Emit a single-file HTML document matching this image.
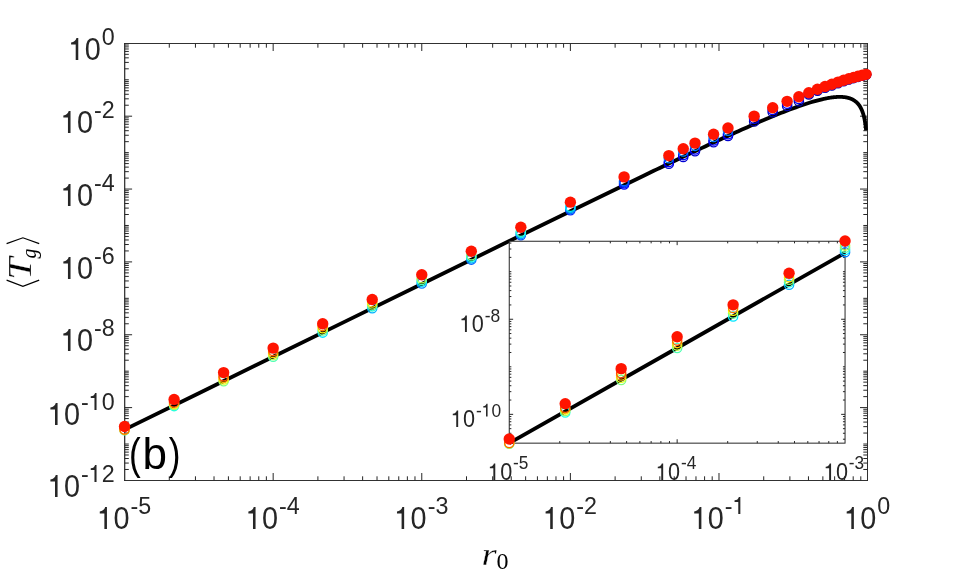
<!DOCTYPE html>
<html><head><meta charset="utf-8"><title>plot</title><style>
html,body{margin:0;padding:0;background:#fff;}
body{width:959px;height:575px;overflow:hidden;font-family:"Liberation Sans",sans-serif;}
svg{display:block;will-change:transform;}
.fs{font-family:"Liberation Sans",sans-serif;}
.fr{font-family:"Liberation Serif",serif;}
</style></head><body>
<svg width="959" height="575" viewBox="0 0 959 575">
<rect width="959" height="575" fill="#fff"/>
<path d="M169.29 480.5v-4.2M169.29 43.5v4.2M195.45 480.5v-4.2M195.45 43.5v4.2M214.02 480.5v-4.2M214.02 43.5v4.2M228.42 480.5v-4.2M228.42 43.5v4.2M240.19 480.5v-4.2M240.19 43.5v4.2M250.14 480.5v-4.2M250.14 43.5v4.2M258.76 480.5v-4.2M258.76 43.5v4.2M266.36 480.5v-4.2M266.36 43.5v4.2M273.16 480.5v-7.5M273.16 43.5v7.5M317.9 480.5v-4.2M317.9 43.5v4.2M344.06 480.5v-4.2M344.06 43.5v4.2M362.63 480.5v-4.2M362.63 43.5v4.2M377.03 480.5v-4.2M377.03 43.5v4.2M388.8 480.5v-4.2M388.8 43.5v4.2M398.75 480.5v-4.2M398.75 43.5v4.2M407.37 480.5v-4.2M407.37 43.5v4.2M414.97 480.5v-4.2M414.97 43.5v4.2M421.77 480.5v-7.5M421.77 43.5v7.5M466.51 480.5v-4.2M466.51 43.5v4.2M492.67 480.5v-4.2M492.67 43.5v4.2M511.24 480.5v-4.2M511.24 43.5v4.2M525.64 480.5v-4.2M525.64 43.5v4.2M537.41 480.5v-4.2M537.41 43.5v4.2M547.36 480.5v-4.2M547.36 43.5v4.2M555.98 480.5v-4.2M555.98 43.5v4.2M563.58 480.5v-4.2M563.58 43.5v4.2M570.38 480.5v-7.5M570.38 43.5v7.5M615.12 480.5v-4.2M615.12 43.5v4.2M641.28 480.5v-4.2M641.28 43.5v4.2M659.85 480.5v-4.2M659.85 43.5v4.2M674.25 480.5v-4.2M674.25 43.5v4.2M686.02 480.5v-4.2M686.02 43.5v4.2M695.97 480.5v-4.2M695.97 43.5v4.2M704.59 480.5v-4.2M704.59 43.5v4.2M712.19 480.5v-4.2M712.19 43.5v4.2M718.99 480.5v-7.5M718.99 43.5v7.5M763.73 480.5v-4.2M763.73 43.5v4.2M789.89 480.5v-4.2M789.89 43.5v4.2M808.46 480.5v-4.2M808.46 43.5v4.2M822.86 480.5v-4.2M822.86 43.5v4.2M834.63 480.5v-4.2M834.63 43.5v4.2M844.58 480.5v-4.2M844.58 43.5v4.2M853.2 480.5v-4.2M853.2 43.5v4.2M860.8 480.5v-4.2M860.8 43.5v4.2M124.6 469.48h4.2M867.5 469.48h-4.2M124.6 463.07h4.2M867.5 463.07h-4.2M124.6 458.52h4.2M867.5 458.52h-4.2M124.6 454.99h4.2M867.5 454.99h-4.2M124.6 452.11h4.2M867.5 452.11h-4.2M124.6 449.67h4.2M867.5 449.67h-4.2M124.6 447.55h4.2M867.5 447.55h-4.2M124.6 445.69h4.2M867.5 445.69h-4.2M124.6 444.02h4.2M867.5 444.02h-4.2M124.6 433.06h4.2M867.5 433.06h-4.2M124.6 426.65h4.2M867.5 426.65h-4.2M124.6 422.09h4.2M867.5 422.09h-4.2M124.6 418.57h4.2M867.5 418.57h-4.2M124.6 415.68h4.2M867.5 415.68h-4.2M124.6 413.24h4.2M867.5 413.24h-4.2M124.6 411.13h4.2M867.5 411.13h-4.2M124.6 409.27h4.2M867.5 409.27h-4.2M124.6 407.6h7.5M867.5 407.6h-7.5M124.6 396.63h4.2M867.5 396.63h-4.2M124.6 390.22h4.2M867.5 390.22h-4.2M124.6 385.67h4.2M867.5 385.67h-4.2M124.6 382.14h4.2M867.5 382.14h-4.2M124.6 379.26h4.2M867.5 379.26h-4.2M124.6 376.82h4.2M867.5 376.82h-4.2M124.6 374.7h4.2M867.5 374.7h-4.2M124.6 372.84h4.2M867.5 372.84h-4.2M124.6 371.18h4.2M867.5 371.18h-4.2M124.6 360.21h4.2M867.5 360.21h-4.2M124.6 353.8h4.2M867.5 353.8h-4.2M124.6 349.24h4.2M867.5 349.24h-4.2M124.6 345.72h4.2M867.5 345.72h-4.2M124.6 342.83h4.2M867.5 342.83h-4.2M124.6 340.39h4.2M867.5 340.39h-4.2M124.6 338.28h4.2M867.5 338.28h-4.2M124.6 336.42h4.2M867.5 336.42h-4.2M124.6 334.75h7.5M867.5 334.75h-7.5M124.6 323.78h4.2M867.5 323.78h-4.2M124.6 317.37h4.2M867.5 317.37h-4.2M124.6 312.82h4.2M867.5 312.82h-4.2M124.6 309.29h4.2M867.5 309.29h-4.2M124.6 306.41h4.2M867.5 306.41h-4.2M124.6 303.97h4.2M867.5 303.97h-4.2M124.6 301.85h4.2M867.5 301.85h-4.2M124.6 299.99h4.2M867.5 299.99h-4.2M124.6 298.32h4.2M867.5 298.32h-4.2M124.6 287.36h4.2M867.5 287.36h-4.2M124.6 280.95h4.2M867.5 280.95h-4.2M124.6 276.39h4.2M867.5 276.39h-4.2M124.6 272.87h4.2M867.5 272.87h-4.2M124.6 269.98h4.2M867.5 269.98h-4.2M124.6 267.54h4.2M867.5 267.54h-4.2M124.6 265.43h4.2M867.5 265.43h-4.2M124.6 263.57h4.2M867.5 263.57h-4.2M124.6 261.9h7.5M867.5 261.9h-7.5M124.6 250.93h4.2M867.5 250.93h-4.2M124.6 244.52h4.2M867.5 244.52h-4.2M124.6 239.97h4.2M867.5 239.97h-4.2M124.6 236.44h4.2M867.5 236.44h-4.2M124.6 233.56h4.2M867.5 233.56h-4.2M124.6 231.12h4.2M867.5 231.12h-4.2M124.6 229h4.2M867.5 229h-4.2M124.6 227.14h4.2M867.5 227.14h-4.2M124.6 225.47h4.2M867.5 225.47h-4.2M124.6 214.51h4.2M867.5 214.51h-4.2M124.6 208.1h4.2M867.5 208.1h-4.2M124.6 203.54h4.2M867.5 203.54h-4.2M124.6 200.02h4.2M867.5 200.02h-4.2M124.6 197.13h4.2M867.5 197.13h-4.2M124.6 194.69h4.2M867.5 194.69h-4.2M124.6 192.58h4.2M867.5 192.58h-4.2M124.6 190.72h4.2M867.5 190.72h-4.2M124.6 189.05h7.5M867.5 189.05h-7.5M124.6 178.08h4.2M867.5 178.08h-4.2M124.6 171.67h4.2M867.5 171.67h-4.2M124.6 167.12h4.2M867.5 167.12h-4.2M124.6 163.59h4.2M867.5 163.59h-4.2M124.6 160.71h4.2M867.5 160.71h-4.2M124.6 158.27h4.2M867.5 158.27h-4.2M124.6 156.15h4.2M867.5 156.15h-4.2M124.6 154.29h4.2M867.5 154.29h-4.2M124.6 152.62h4.2M867.5 152.62h-4.2M124.6 141.66h4.2M867.5 141.66h-4.2M124.6 135.25h4.2M867.5 135.25h-4.2M124.6 130.69h4.2M867.5 130.69h-4.2M124.6 127.17h4.2M867.5 127.17h-4.2M124.6 124.28h4.2M867.5 124.28h-4.2M124.6 121.84h4.2M867.5 121.84h-4.2M124.6 119.73h4.2M867.5 119.73h-4.2M124.6 117.87h4.2M867.5 117.87h-4.2M124.6 116.2h7.5M867.5 116.2h-7.5M124.6 105.23h4.2M867.5 105.23h-4.2M124.6 98.82h4.2M867.5 98.82h-4.2M124.6 94.27h4.2M867.5 94.27h-4.2M124.6 90.74h4.2M867.5 90.74h-4.2M124.6 87.86h4.2M867.5 87.86h-4.2M124.6 85.42h4.2M867.5 85.42h-4.2M124.6 83.3h4.2M867.5 83.3h-4.2M124.6 81.44h4.2M867.5 81.44h-4.2M124.6 79.78h4.2M867.5 79.78h-4.2M124.6 68.81h4.2M867.5 68.81h-4.2M124.6 62.4h4.2M867.5 62.4h-4.2M124.6 57.84h4.2M867.5 57.84h-4.2M124.6 54.32h4.2M867.5 54.32h-4.2M124.6 51.43h4.2M867.5 51.43h-4.2M124.6 48.99h4.2M867.5 48.99h-4.2M124.6 46.88h4.2M867.5 46.88h-4.2M124.6 45.02h4.2M867.5 45.02h-4.2" fill="none" stroke="#262626" stroke-width="1"/>
<path d="M124.7 43 V481" stroke="#262626" stroke-width="1.2"/>
<path d="M124.2 43.5 H868 M124.2 480.5 H868 M867.5 43 V481" stroke="#262626" stroke-width="0.95"/>
<path d="M124.55 429.61 L198.86 393.18 L273.16 356.76 L347.47 320.34 L421.77 283.93 L496.08 247.54 L570.38 211.23 L644.68 175.18 L647.71 173.73 L650.73 172.27 L653.75 170.82 L656.78 169.37 L659.8 167.92 L662.82 166.47 L665.84 165.03 L668.87 163.58 L671.89 162.14 L674.91 160.7 L677.93 159.26 L680.96 157.83 L683.98 156.39 L687 154.96 L690.02 153.53 L693.05 152.11 L696.07 150.68 L699.09 149.26 L702.11 147.85 L705.14 146.43 L708.16 145.02 L711.18 143.62 L714.2 142.22 L717.23 140.82 L720.25 139.42 L723.27 138.04 L726.29 136.65 L729.32 135.27 L732.34 133.9 L735.36 132.53 L738.38 131.17 L741.41 129.82 L744.43 128.47 L747.45 127.14 L750.48 125.8 L753.5 124.48 L756.52 123.17 L759.54 121.87 L762.57 120.58 L765.59 119.29 L768.61 118.03 L771.63 116.77 L774.66 115.53 L777.68 114.3 L780.7 113.09 L783.72 111.9 L786.75 110.73 L789.77 109.58 L792.79 108.45 L795.81 107.35 L798.84 106.27 L801.86 105.22 L804.88 104.21 L807.9 103.23 L810.93 102.3 L813.95 101.41 L816.97 100.57 L819.99 99.79 L823.02 99.07 L823.53 98.96 L824.04 98.85 L824.54 98.74 L825.04 98.63 L825.54 98.53 L826.03 98.43 L826.52 98.34 L827.01 98.24 L827.49 98.15 L827.97 98.07 L828.44 97.98 L828.92 97.9 L829.38 97.83 L829.85 97.75 L830.31 97.68 L830.77 97.61 L831.22 97.55 L831.67 97.48 L832.12 97.42 L832.57 97.37 L833.01 97.31 L833.45 97.26 L833.89 97.22 L834.32 97.17 L834.75 97.13 L835.18 97.09 L835.6 97.06 L836.03 97.03 L836.45 97 L836.86 96.97 L837.28 96.95 L837.69 96.93 L838.1 96.92 L838.5 96.9 L838.91 96.89 L839.31 96.89 L839.71 96.89 L840.1 96.89 L840.5 96.89 L840.89 96.9 L841.28 96.91 L841.66 96.93 L842.05 96.95 L842.43 96.97 L842.81 96.99 L843.19 97.02 L843.56 97.06 L843.94 97.1 L844.31 97.14 L844.68 97.18 L845.04 97.23 L845.41 97.29 L845.77 97.34 L846.13 97.41 L846.49 97.47 L846.85 97.54 L847.2 97.62 L847.55 97.7 L847.91 97.79 L848.25 97.88 L848.6 97.97 L848.95 98.07 L849.29 98.18 L849.63 98.29 L849.97 98.4 L850.31 98.52 L850.65 98.65 L850.98 98.79 L851.31 98.93 L851.65 99.07 L851.98 99.22 L852.3 99.38 L852.63 99.55 L852.95 99.72 L853.28 99.9 L853.6 100.09 L853.92 100.29 L854.24 100.49 L854.55 100.71 L854.87 100.93 L855.18 101.16 L855.49 101.4 L855.8 101.65 L856.11 101.91 L856.42 102.18 L856.73 102.47 L857.03 102.76 L857.33 103.07 L857.63 103.4 L857.94 103.73 L858.23 104.08 L858.53 104.45 L858.83 104.83 L859.12 105.23 L859.42 105.65 L859.71 106.09 L860 106.55 L860.29 107.03 L860.58 107.54 L860.86 108.07 L861.15 108.63 L861.43 109.23 L861.72 109.85 L862 110.52 L862.28 111.22 L862.56 111.97 L862.84 112.76 L863.12 113.61 L863.39 114.52 L863.67 115.5 L863.94 116.56 L864.21 117.71 L864.48 118.97 L864.75 120.35 L865.02 121.87 L865.29 123.58 L865.56 125.5 L865.82 127.71 L866.09 130.3" fill="none" stroke="#000" stroke-width="3.8" stroke-linejoin="round"/>
<circle cx="124.55" cy="430.13" r="4.65" fill="none" stroke="#4dffb2" stroke-width="1.3"/>
<circle cx="124.55" cy="429.83" r="4.65" fill="none" stroke="#faff05" stroke-width="1.3"/>
<circle cx="124.55" cy="429.53" r="4.65" fill="none" stroke="#ff6100" stroke-width="1.3"/>
<circle cx="174.09" cy="406.12" r="4.65" fill="none" stroke="#19ffe6" stroke-width="1.3"/>
<circle cx="174.09" cy="404.95" r="4.65" fill="none" stroke="#9bff64" stroke-width="1.3"/>
<circle cx="174.09" cy="403.78" r="4.65" fill="none" stroke="#ffe200" stroke-width="1.3"/>
<circle cx="174.09" cy="402.62" r="4.65" fill="none" stroke="#ff6100" stroke-width="1.3"/>
<circle cx="223.62" cy="381.19" r="4.65" fill="none" stroke="#7fff80" stroke-width="1.3"/>
<circle cx="223.62" cy="379.52" r="4.65" fill="none" stroke="#e5ff1a" stroke-width="1.3"/>
<circle cx="223.62" cy="377.86" r="4.65" fill="none" stroke="#ffb300" stroke-width="1.3"/>
<circle cx="223.62" cy="376.19" r="4.65" fill="none" stroke="#ff4c00" stroke-width="1.3"/>
<circle cx="273.16" cy="356.82" r="4.65" fill="none" stroke="#4dffb2" stroke-width="1.3"/>
<circle cx="273.16" cy="354.92" r="4.65" fill="none" stroke="#bdff42" stroke-width="1.3"/>
<circle cx="273.16" cy="353.02" r="4.65" fill="none" stroke="#ffd100" stroke-width="1.3"/>
<circle cx="273.16" cy="351.12" r="4.65" fill="none" stroke="#ff6100" stroke-width="1.3"/>
<circle cx="322.7" cy="332.6" r="4.65" fill="none" stroke="#00e6ff" stroke-width="1.3"/>
<circle cx="322.7" cy="330.43" r="4.65" fill="none" stroke="#6eff90" stroke-width="1.3"/>
<circle cx="322.7" cy="328.27" r="4.65" fill="none" stroke="#f7ff08" stroke-width="1.3"/>
<circle cx="322.7" cy="326.1" r="4.65" fill="none" stroke="#ff8000" stroke-width="1.3"/>
<circle cx="372.23" cy="308.28" r="4.65" fill="none" stroke="#00b2ff" stroke-width="1.3"/>
<circle cx="372.23" cy="306.35" r="4.65" fill="none" stroke="#2affd5" stroke-width="1.3"/>
<circle cx="372.23" cy="304.42" r="4.65" fill="none" stroke="#a1ff5e" stroke-width="1.3"/>
<circle cx="372.23" cy="302.48" r="4.65" fill="none" stroke="#ffe600" stroke-width="1.3"/>
<circle cx="421.77" cy="283.41" r="4.65" fill="none" stroke="#0080ff" stroke-width="1.3"/>
<circle cx="421.77" cy="281.71" r="4.65" fill="none" stroke="#00e5ff" stroke-width="1.3"/>
<circle cx="421.77" cy="280.01" r="4.65" fill="none" stroke="#4dffb2" stroke-width="1.3"/>
<circle cx="421.77" cy="278.31" r="4.65" fill="none" stroke="#b3ff4c" stroke-width="1.3"/>
<circle cx="471.31" cy="259.6" r="4.65" fill="none" stroke="#0061ff" stroke-width="1.3"/>
<circle cx="471.31" cy="258.16" r="4.65" fill="none" stroke="#00c0ff" stroke-width="1.3"/>
<circle cx="471.31" cy="256.73" r="4.65" fill="none" stroke="#20ffdf" stroke-width="1.3"/>
<circle cx="471.31" cy="255.3" r="4.65" fill="none" stroke="#7fff80" stroke-width="1.3"/>
<circle cx="520.84" cy="235.18" r="4.65" fill="none" stroke="#004dff" stroke-width="1.3"/>
<circle cx="520.84" cy="234.01" r="4.65" fill="none" stroke="#0097ff" stroke-width="1.3"/>
<circle cx="520.84" cy="232.85" r="4.65" fill="none" stroke="#00e2ff" stroke-width="1.3"/>
<circle cx="520.84" cy="231.68" r="4.65" fill="none" stroke="#2effd1" stroke-width="1.3"/>
<circle cx="570.38" cy="210.16" r="4.65" fill="none" stroke="#002eff" stroke-width="1.3"/>
<circle cx="570.38" cy="208.99" r="4.65" fill="none" stroke="#006eff" stroke-width="1.3"/>
<circle cx="570.38" cy="207.83" r="4.65" fill="none" stroke="#00afff" stroke-width="1.3"/>
<circle cx="570.38" cy="206.66" r="4.65" fill="none" stroke="#00f0ff" stroke-width="1.3"/>
<circle cx="624.1" cy="184.39" r="4.65" fill="none" stroke="#0000f0" stroke-width="1.3"/>
<circle cx="624.1" cy="183.23" r="4.65" fill="none" stroke="#0016ff" stroke-width="1.3"/>
<circle cx="624.1" cy="182.06" r="4.65" fill="none" stroke="#003cff" stroke-width="1.3"/>
<circle cx="624.1" cy="180.89" r="4.65" fill="none" stroke="#0061ff" stroke-width="1.3"/>
<circle cx="668.84" cy="163.68" r="4.65" fill="none" stroke="#0000d1" stroke-width="1.3"/>
<circle cx="668.84" cy="161.88" r="4.65" fill="none" stroke="#0000ff" stroke-width="1.3"/>
<circle cx="668.84" cy="158.28" r="4.65" fill="none" stroke="#0080ff" stroke-width="1.3"/>
<circle cx="683.24" cy="156.88" r="4.65" fill="none" stroke="#0000d1" stroke-width="1.3"/>
<circle cx="683.24" cy="155.08" r="4.65" fill="none" stroke="#0000ff" stroke-width="1.3"/>
<circle cx="683.24" cy="151.48" r="4.65" fill="none" stroke="#0080ff" stroke-width="1.3"/>
<circle cx="695.01" cy="151.24" r="4.65" fill="none" stroke="#0000d1" stroke-width="1.3"/>
<circle cx="695.01" cy="149.44" r="4.65" fill="none" stroke="#0000ff" stroke-width="1.3"/>
<circle cx="695.01" cy="145.84" r="4.65" fill="none" stroke="#0080ff" stroke-width="1.3"/>
<circle cx="713.58" cy="142.3" r="4.65" fill="none" stroke="#0000d1" stroke-width="1.3"/>
<circle cx="713.58" cy="140.5" r="4.65" fill="none" stroke="#0000ff" stroke-width="1.3"/>
<circle cx="713.58" cy="136.9" r="4.65" fill="none" stroke="#0080ff" stroke-width="1.3"/>
<circle cx="727.98" cy="136.05" r="4.65" fill="none" stroke="#0000d1" stroke-width="1.3"/>
<circle cx="727.98" cy="134.25" r="4.65" fill="none" stroke="#0000ff" stroke-width="1.3"/>
<circle cx="727.98" cy="130.65" r="4.65" fill="none" stroke="#0080ff" stroke-width="1.3"/>
<circle cx="754.15" cy="121.45" r="4.65" fill="none" stroke="#0000a8" stroke-width="1.3"/>
<circle cx="754.15" cy="118.65" r="4.65" fill="none" stroke="#0000fa" stroke-width="1.3"/>
<circle cx="772.71" cy="112.32" r="4.65" fill="none" stroke="#0000a8" stroke-width="1.3"/>
<circle cx="772.71" cy="110.02" r="4.65" fill="none" stroke="#0000fa" stroke-width="1.3"/>
<circle cx="787.12" cy="105.93" r="4.65" fill="none" stroke="#0000a8" stroke-width="1.3"/>
<circle cx="787.12" cy="103.63" r="4.65" fill="none" stroke="#0000fa" stroke-width="1.3"/>
<circle cx="798.88" cy="101.31" r="4.65" fill="none" stroke="#0000a8" stroke-width="1.3"/>
<circle cx="798.88" cy="99.01" r="4.65" fill="none" stroke="#0000fa" stroke-width="1.3"/>
<circle cx="808.83" cy="94.41" r="4.65" fill="none" stroke="#0000a8" stroke-width="1.3"/>
<circle cx="808.83" cy="93.6" r="4.65" fill="none" stroke="#0000fa" stroke-width="1.3"/>
<circle cx="817.45" cy="90.63" r="4.65" fill="none" stroke="#0000a8" stroke-width="1.3"/>
<circle cx="817.45" cy="89.91" r="4.65" fill="none" stroke="#0000fa" stroke-width="1.3"/>
<circle cx="825.05" cy="87.81" r="4.65" fill="none" stroke="#0000a8" stroke-width="1.3"/>
<circle cx="825.05" cy="87.16" r="4.65" fill="none" stroke="#0000fa" stroke-width="1.3"/>
<circle cx="831.85" cy="85.41" r="4.65" fill="none" stroke="#0000a8" stroke-width="1.3"/>
<circle cx="831.85" cy="84.83" r="4.65" fill="none" stroke="#0000fa" stroke-width="1.3"/>
<circle cx="838" cy="83.14" r="4.65" fill="none" stroke="#0000a8" stroke-width="1.3"/>
<circle cx="838" cy="82.63" r="4.65" fill="none" stroke="#0000fa" stroke-width="1.3"/>
<circle cx="843.62" cy="81.16" r="4.65" fill="none" stroke="#0000a8" stroke-width="1.3"/>
<circle cx="843.62" cy="80.71" r="4.65" fill="none" stroke="#0000fa" stroke-width="1.3"/>
<circle cx="848.79" cy="79.53" r="4.65" fill="none" stroke="#0000a8" stroke-width="1.3"/>
<circle cx="848.79" cy="79.14" r="4.65" fill="none" stroke="#0000fa" stroke-width="1.3"/>
<circle cx="853.57" cy="78.1" r="4.65" fill="none" stroke="#0000a8" stroke-width="1.3"/>
<circle cx="853.57" cy="77.75" r="4.65" fill="none" stroke="#0000fa" stroke-width="1.3"/>
<circle cx="858.02" cy="76.83" r="4.65" fill="none" stroke="#0000a8" stroke-width="1.3"/>
<circle cx="858.02" cy="76.54" r="4.65" fill="none" stroke="#0000fa" stroke-width="1.3"/>
<circle cx="862.19" cy="75.73" r="4.65" fill="none" stroke="#0000a8" stroke-width="1.3"/>
<circle cx="862.19" cy="75.47" r="4.65" fill="none" stroke="#0000fa" stroke-width="1.3"/>
<circle cx="866.1" cy="74.76" r="4.65" fill="none" stroke="#0000a8" stroke-width="1.3"/>
<circle cx="866.1" cy="74.55" r="4.65" fill="none" stroke="#0000fa" stroke-width="1.3"/>
<circle cx="124.55" cy="426.53" r="5.7" fill="#ff1400"/>
<circle cx="174.09" cy="399.42" r="5.7" fill="#ff1400"/>
<circle cx="223.62" cy="372.59" r="5.7" fill="#ff1400"/>
<circle cx="273.16" cy="348.12" r="5.7" fill="#ff1400"/>
<circle cx="322.7" cy="323.7" r="5.7" fill="#ff1400"/>
<circle cx="372.23" cy="299.48" r="5.7" fill="#ff1400"/>
<circle cx="421.77" cy="274.81" r="5.7" fill="#ff1400"/>
<circle cx="471.31" cy="251.3" r="5.7" fill="#ff1400"/>
<circle cx="520.84" cy="227.18" r="5.7" fill="#ff1400"/>
<circle cx="570.38" cy="202.16" r="5.7" fill="#ff1400"/>
<circle cx="624.1" cy="176.89" r="5.7" fill="#ff1400"/>
<circle cx="668.84" cy="155.58" r="5.7" fill="#ff1400"/>
<circle cx="683.24" cy="148.78" r="5.7" fill="#ff1400"/>
<circle cx="695.01" cy="143.14" r="5.7" fill="#ff1400"/>
<circle cx="713.58" cy="134.2" r="5.7" fill="#ff1400"/>
<circle cx="727.98" cy="127.95" r="5.7" fill="#ff1400"/>
<circle cx="754.15" cy="116.15" r="5.7" fill="#ff1400"/>
<circle cx="772.71" cy="107.72" r="5.7" fill="#ff1400"/>
<circle cx="787.12" cy="101.33" r="5.7" fill="#ff1400"/>
<circle cx="798.88" cy="96.71" r="5.7" fill="#ff1400"/>
<circle cx="808.83" cy="92.79" r="5.7" fill="#ff1400"/>
<circle cx="817.45" cy="89.18" r="5.7" fill="#ff1400"/>
<circle cx="825.05" cy="86.51" r="5.7" fill="#ff1400"/>
<circle cx="831.85" cy="84.25" r="5.7" fill="#ff1400"/>
<circle cx="838" cy="82.12" r="5.7" fill="#ff1400"/>
<circle cx="843.62" cy="80.26" r="5.7" fill="#ff1400"/>
<circle cx="848.79" cy="78.74" r="5.7" fill="#ff1400"/>
<circle cx="853.57" cy="77.41" r="5.7" fill="#ff1400"/>
<circle cx="858.02" cy="76.24" r="5.7" fill="#ff1400"/>
<circle cx="862.19" cy="75.22" r="5.7" fill="#ff1400"/>
<circle cx="866.1" cy="74.34" r="5.7" fill="#ff1400"/>
<rect x="509.25" y="241.25" width="335.8" height="201.9" fill="#fff"/>
<path d="M559.79 443.15v-2.1M559.79 241.25v2.1M589.36 443.15v-2.1M589.36 241.25v2.1M610.34 443.15v-2.1M610.34 241.25v2.1M626.61 443.15v-2.1M626.61 241.25v2.1M639.9 443.15v-2.1M639.9 241.25v2.1M651.14 443.15v-2.1M651.14 241.25v2.1M660.88 443.15v-2.1M660.88 241.25v2.1M669.47 443.15v-2.1M669.47 241.25v2.1M677.15 443.15v-3.9M677.15 241.25v3.9M727.69 443.15v-2.1M727.69 241.25v2.1M757.26 443.15v-2.1M757.26 241.25v2.1M778.24 443.15v-2.1M778.24 241.25v2.1M794.51 443.15v-2.1M794.51 241.25v2.1M807.8 443.15v-2.1M807.8 241.25v2.1M819.04 443.15v-2.1M819.04 241.25v2.1M828.78 443.15v-2.1M828.78 241.25v2.1M837.37 443.15v-2.1M837.37 241.25v2.1M509.25 439.21h2.1M845.05 439.21h-2.1M509.25 433.27h2.1M845.05 433.27h-2.1M509.25 428.66h2.1M845.05 428.66h-2.1M509.25 424.9h2.1M845.05 424.9h-2.1M509.25 421.72h2.1M845.05 421.72h-2.1M509.25 418.96h2.1M845.05 418.96h-2.1M509.25 416.53h2.1M845.05 416.53h-2.1M509.25 414.35h3.9M845.05 414.35h-3.9M509.25 400.04h2.1M845.05 400.04h-2.1M509.25 391.66h2.1M845.05 391.66h-2.1M509.25 385.72h2.1M845.05 385.72h-2.1M509.25 381.11h2.1M845.05 381.11h-2.1M509.25 377.35h2.1M845.05 377.35h-2.1M509.25 374.17h2.1M845.05 374.17h-2.1M509.25 371.41h2.1M845.05 371.41h-2.1M509.25 368.98h2.1M845.05 368.98h-2.1M509.25 366.8h2.1M845.05 366.8h-2.1M509.25 352.49h2.1M845.05 352.49h-2.1M509.25 344.11h2.1M845.05 344.11h-2.1M509.25 338.17h2.1M845.05 338.17h-2.1M509.25 333.56h2.1M845.05 333.56h-2.1M509.25 329.8h2.1M845.05 329.8h-2.1M509.25 326.62h2.1M845.05 326.62h-2.1M509.25 323.86h2.1M845.05 323.86h-2.1M509.25 321.43h2.1M845.05 321.43h-2.1M509.25 319.25h3.9M845.05 319.25h-3.9M509.25 304.94h2.1M845.05 304.94h-2.1M509.25 296.56h2.1M845.05 296.56h-2.1M509.25 290.62h2.1M845.05 290.62h-2.1M509.25 286.01h2.1M845.05 286.01h-2.1M509.25 282.25h2.1M845.05 282.25h-2.1M509.25 279.07h2.1M845.05 279.07h-2.1M509.25 276.31h2.1M845.05 276.31h-2.1M509.25 273.88h2.1M845.05 273.88h-2.1M509.25 271.7h2.1M845.05 271.7h-2.1M509.25 257.39h2.1M845.05 257.39h-2.1M509.25 249.01h2.1M845.05 249.01h-2.1M509.25 243.07h2.1M845.05 243.07h-2.1" fill="none" stroke="#262626" stroke-width="1"/>
<rect x="509.25" y="241.25" width="335.8" height="201.9" fill="none" stroke="#262626" stroke-width="1.0"/>
<path d="M509.25 443.08 L677.15 347.98 L845.05 252.9" fill="none" stroke="#000" stroke-width="3.8"/>
<circle cx="509.25" cy="443.76" r="4.65" fill="none" stroke="#4dffb2" stroke-width="1.3"/>
<circle cx="509.25" cy="443.37" r="4.65" fill="none" stroke="#faff05" stroke-width="1.3"/>
<circle cx="509.25" cy="442.97" r="4.65" fill="none" stroke="#ff6100" stroke-width="1.3"/>
<circle cx="565.22" cy="412.41" r="4.65" fill="none" stroke="#19ffe6" stroke-width="1.3"/>
<circle cx="565.22" cy="410.89" r="4.65" fill="none" stroke="#9bff64" stroke-width="1.3"/>
<circle cx="565.22" cy="409.37" r="4.65" fill="none" stroke="#ffe200" stroke-width="1.3"/>
<circle cx="565.22" cy="407.84" r="4.65" fill="none" stroke="#ff6100" stroke-width="1.3"/>
<circle cx="621.18" cy="379.88" r="4.65" fill="none" stroke="#7fff80" stroke-width="1.3"/>
<circle cx="621.18" cy="377.7" r="4.65" fill="none" stroke="#e5ff1a" stroke-width="1.3"/>
<circle cx="621.18" cy="375.52" r="4.65" fill="none" stroke="#ffb300" stroke-width="1.3"/>
<circle cx="621.18" cy="373.35" r="4.65" fill="none" stroke="#ff4c00" stroke-width="1.3"/>
<circle cx="677.15" cy="348.06" r="4.65" fill="none" stroke="#4dffb2" stroke-width="1.3"/>
<circle cx="677.15" cy="345.58" r="4.65" fill="none" stroke="#bdff42" stroke-width="1.3"/>
<circle cx="677.15" cy="343.1" r="4.65" fill="none" stroke="#ffd100" stroke-width="1.3"/>
<circle cx="677.15" cy="340.62" r="4.65" fill="none" stroke="#ff6100" stroke-width="1.3"/>
<circle cx="733.12" cy="316.45" r="4.65" fill="none" stroke="#00e6ff" stroke-width="1.3"/>
<circle cx="733.12" cy="313.62" r="4.65" fill="none" stroke="#6eff90" stroke-width="1.3"/>
<circle cx="733.12" cy="310.79" r="4.65" fill="none" stroke="#f7ff08" stroke-width="1.3"/>
<circle cx="733.12" cy="307.96" r="4.65" fill="none" stroke="#ff8000" stroke-width="1.3"/>
<circle cx="789.08" cy="284.7" r="4.65" fill="none" stroke="#00b2ff" stroke-width="1.3"/>
<circle cx="789.08" cy="282.18" r="4.65" fill="none" stroke="#2affd5" stroke-width="1.3"/>
<circle cx="789.08" cy="279.65" r="4.65" fill="none" stroke="#a1ff5e" stroke-width="1.3"/>
<circle cx="789.08" cy="277.13" r="4.65" fill="none" stroke="#ffe600" stroke-width="1.3"/>
<circle cx="845.05" cy="252.24" r="4.65" fill="none" stroke="#0080ff" stroke-width="1.3"/>
<circle cx="845.05" cy="250.02" r="4.65" fill="none" stroke="#00e5ff" stroke-width="1.3"/>
<circle cx="845.05" cy="247.8" r="4.65" fill="none" stroke="#4dffb2" stroke-width="1.3"/>
<circle cx="845.05" cy="245.58" r="4.65" fill="none" stroke="#b3ff4c" stroke-width="1.3"/>
<circle cx="509.25" cy="439.06" r="5.7" fill="#ff1400"/>
<circle cx="565.22" cy="403.67" r="5.7" fill="#ff1400"/>
<circle cx="621.18" cy="368.65" r="5.7" fill="#ff1400"/>
<circle cx="677.15" cy="336.7" r="5.7" fill="#ff1400"/>
<circle cx="733.12" cy="304.83" r="5.7" fill="#ff1400"/>
<circle cx="789.08" cy="273.21" r="5.7" fill="#ff1400"/>
<circle cx="845.05" cy="241.01" r="5.7" fill="#ff1400"/>
<g class="fs" fill="#262626"><path transform="translate(97.37 529) scale(28.830 -31.000)" d="M0.243 0L0.332 0L0.332 0.709L0.27 0.709C0.245 0.625 0.185 0.576 0.083 0.568L0.083 0.503L0.243 0.503Z"/><text transform="translate(113.4 529) scale(0.93 1)" font-size="31.0">0</text><text transform="translate(130.43 514) scale(0.97 1)" font-size="24.0">-</text><text transform="translate(138.18 514) scale(0.97 1)" font-size="24.0">5</text><path transform="translate(245.98 529) scale(28.830 -31.000)" d="M0.243 0L0.332 0L0.332 0.709L0.27 0.709C0.245 0.625 0.185 0.576 0.083 0.568L0.083 0.503L0.243 0.503Z"/><text transform="translate(262.01 529) scale(0.93 1)" font-size="31.0">0</text><text transform="translate(279.04 514) scale(0.97 1)" font-size="24.0">-</text><text transform="translate(286.79 514) scale(0.97 1)" font-size="24.0">4</text><path transform="translate(394.59 529) scale(28.830 -31.000)" d="M0.243 0L0.332 0L0.332 0.709L0.27 0.709C0.245 0.625 0.185 0.576 0.083 0.568L0.083 0.503L0.243 0.503Z"/><text transform="translate(410.62 529) scale(0.93 1)" font-size="31.0">0</text><text transform="translate(427.65 514) scale(0.97 1)" font-size="24.0">-</text><text transform="translate(435.4 514) scale(0.97 1)" font-size="24.0">3</text><path transform="translate(543.2 529) scale(28.830 -31.000)" d="M0.243 0L0.332 0L0.332 0.709L0.27 0.709C0.245 0.625 0.185 0.576 0.083 0.568L0.083 0.503L0.243 0.503Z"/><text transform="translate(559.23 529) scale(0.93 1)" font-size="31.0">0</text><text transform="translate(576.26 514) scale(0.97 1)" font-size="24.0">-</text><text transform="translate(584.01 514) scale(0.97 1)" font-size="24.0">2</text><path transform="translate(691.81 529) scale(28.830 -31.000)" d="M0.243 0L0.332 0L0.332 0.709L0.27 0.709C0.245 0.625 0.185 0.576 0.083 0.568L0.083 0.503L0.243 0.503Z"/><text transform="translate(707.84 529) scale(0.93 1)" font-size="31.0">0</text><text transform="translate(724.87 514) scale(0.97 1)" font-size="24.0">-</text><path transform="translate(732.62 514) scale(23.280 -24.000)" d="M0.243 0L0.332 0L0.332 0.709L0.27 0.709C0.245 0.625 0.185 0.576 0.083 0.568L0.083 0.503L0.243 0.503Z"/><path transform="translate(844.3 529) scale(28.830 -31.000)" d="M0.243 0L0.332 0L0.332 0.709L0.27 0.709C0.245 0.625 0.185 0.576 0.083 0.568L0.083 0.503L0.243 0.503Z"/><text transform="translate(860.33 529) scale(0.93 1)" font-size="31.0">0</text><text transform="translate(877.36 514) scale(0.97 1)" font-size="24.0">0</text><path transform="translate(68.7 60) scale(28.830 -31.000)" d="M0.243 0L0.332 0L0.332 0.709L0.27 0.709C0.245 0.625 0.185 0.576 0.083 0.568L0.083 0.503L0.243 0.503Z"/><text transform="translate(84.73 60) scale(0.93 1)" font-size="31.0">0</text><text transform="translate(101.76 45) scale(0.97 1)" font-size="24.0">0</text><path transform="translate(60.95 133) scale(28.830 -31.000)" d="M0.243 0L0.332 0L0.332 0.709L0.27 0.709C0.245 0.625 0.185 0.576 0.083 0.568L0.083 0.503L0.243 0.503Z"/><text transform="translate(76.97 133) scale(0.93 1)" font-size="31.0">0</text><text transform="translate(94 118) scale(0.97 1)" font-size="24.0">-</text><text transform="translate(101.76 118) scale(0.97 1)" font-size="24.0">2</text><path transform="translate(60.95 206) scale(28.830 -31.000)" d="M0.243 0L0.332 0L0.332 0.709L0.27 0.709C0.245 0.625 0.185 0.576 0.083 0.568L0.083 0.503L0.243 0.503Z"/><text transform="translate(76.97 206) scale(0.93 1)" font-size="31.0">0</text><text transform="translate(94 191) scale(0.97 1)" font-size="24.0">-</text><text transform="translate(101.76 191) scale(0.97 1)" font-size="24.0">4</text><path transform="translate(60.95 279) scale(28.830 -31.000)" d="M0.243 0L0.332 0L0.332 0.709L0.27 0.709C0.245 0.625 0.185 0.576 0.083 0.568L0.083 0.503L0.243 0.503Z"/><text transform="translate(76.97 279) scale(0.93 1)" font-size="31.0">0</text><text transform="translate(94 264) scale(0.97 1)" font-size="24.0">-</text><text transform="translate(101.76 264) scale(0.97 1)" font-size="24.0">6</text><path transform="translate(60.95 351) scale(28.830 -31.000)" d="M0.243 0L0.332 0L0.332 0.709L0.27 0.709C0.245 0.625 0.185 0.576 0.083 0.568L0.083 0.503L0.243 0.503Z"/><text transform="translate(76.97 351) scale(0.93 1)" font-size="31.0">0</text><text transform="translate(94 336) scale(0.97 1)" font-size="24.0">-</text><text transform="translate(101.76 336) scale(0.97 1)" font-size="24.0">8</text><path transform="translate(48 425) scale(28.830 -31.000)" d="M0.243 0L0.332 0L0.332 0.709L0.27 0.709C0.245 0.625 0.185 0.576 0.083 0.568L0.083 0.503L0.243 0.503Z"/><text transform="translate(64.03 425) scale(0.93 1)" font-size="31.0">0</text><text transform="translate(81.06 410) scale(0.97 1)" font-size="24.0">-</text><path transform="translate(88.81 410) scale(23.280 -24.000)" d="M0.243 0L0.332 0L0.332 0.709L0.27 0.709C0.245 0.625 0.185 0.576 0.083 0.568L0.083 0.503L0.243 0.503Z"/><text transform="translate(101.76 410) scale(0.97 1)" font-size="24.0">0</text><path transform="translate(48 497) scale(28.830 -31.000)" d="M0.243 0L0.332 0L0.332 0.709L0.27 0.709C0.245 0.625 0.185 0.576 0.083 0.568L0.083 0.503L0.243 0.503Z"/><text transform="translate(64.03 497) scale(0.93 1)" font-size="31.0">0</text><text transform="translate(81.06 482) scale(0.97 1)" font-size="24.0">-</text><path transform="translate(88.81 482) scale(23.280 -24.000)" d="M0.243 0L0.332 0L0.332 0.709L0.27 0.709C0.245 0.625 0.185 0.576 0.083 0.568L0.083 0.503L0.243 0.503Z"/><text transform="translate(101.76 482) scale(0.97 1)" font-size="24.0">2</text><path transform="translate(488.08 480) scale(21.669 -23.300)" d="M0.243 0L0.332 0L0.332 0.709L0.27 0.709C0.245 0.625 0.185 0.576 0.083 0.568L0.083 0.503L0.243 0.503Z"/><text transform="translate(500.13 480) scale(0.93 1)" font-size="23.3">0</text><text transform="translate(513.07 469) scale(0.97 1)" font-size="17.8">-</text><text transform="translate(518.82 469) scale(0.97 1)" font-size="17.8">5</text><path transform="translate(655.98 480) scale(21.669 -23.300)" d="M0.243 0L0.332 0L0.332 0.709L0.27 0.709C0.245 0.625 0.185 0.576 0.083 0.568L0.083 0.503L0.243 0.503Z"/><text transform="translate(668.03 480) scale(0.93 1)" font-size="23.3">0</text><text transform="translate(680.97 469) scale(0.97 1)" font-size="17.8">-</text><text transform="translate(686.72 469) scale(0.97 1)" font-size="17.8">4</text><path transform="translate(823.88 480) scale(21.669 -23.300)" d="M0.243 0L0.332 0L0.332 0.709L0.27 0.709C0.245 0.625 0.185 0.576 0.083 0.568L0.083 0.503L0.243 0.503Z"/><text transform="translate(835.93 480) scale(0.93 1)" font-size="23.3">0</text><text transform="translate(848.87 469) scale(0.97 1)" font-size="17.8">-</text><text transform="translate(854.62 469) scale(0.97 1)" font-size="17.8">3</text><path transform="translate(459.68 332) scale(21.669 -23.300)" d="M0.243 0L0.332 0L0.332 0.709L0.27 0.709C0.245 0.625 0.185 0.576 0.083 0.568L0.083 0.503L0.243 0.503Z"/><text transform="translate(471.73 332) scale(0.93 1)" font-size="23.3">0</text><text transform="translate(484.68 322) scale(0.97 1)" font-size="18.0">-</text><text transform="translate(490.49 322) scale(0.97 1)" font-size="18.0">8</text><path transform="translate(450.97 427) scale(21.669 -23.300)" d="M0.243 0L0.332 0L0.332 0.709L0.27 0.709C0.245 0.625 0.185 0.576 0.083 0.568L0.083 0.503L0.243 0.503Z"/><text transform="translate(463.02 427) scale(0.93 1)" font-size="23.3">0</text><text transform="translate(475.97 416.5) scale(0.97 1)" font-size="18.0">-</text><path transform="translate(481.78 416.5) scale(17.460 -18.000)" d="M0.243 0L0.332 0L0.332 0.709L0.27 0.709C0.245 0.625 0.185 0.576 0.083 0.568L0.083 0.503L0.243 0.503Z"/><text transform="translate(491.49 416.5) scale(0.97 1)" font-size="18.0">0</text></g>
<g class="fs" font-size="44" fill="#000"><text transform="translate(129.1 469) scale(0.8 1)">(</text><text x="142.45" y="469">b</text><text transform="translate(168.8 469) scale(0.8 1)">)</text></g>
<text transform="translate(481.5 564.5) scale(1.2 1)" class="fr" font-style="italic" font-size="32.5" fill="#000" stroke="#fff" stroke-width="0.3">r</text>
<text transform="translate(496.5 569.26) scale(1.0 1)" class="fr" font-size="24" fill="#000">0</text>
<g transform="translate(31.5 262) rotate(-90)"><path d="M18.4 -24.9 L24.2 -8.6 L18.4 7.7 M-18.1 -24.9 L-24.3 -8.6 L-18.1 7.7" fill="none" stroke="#000" stroke-width="1.2"/><text transform="translate(-17.8 -0.2) scale(1.15 1)" class="fr" font-style="italic" font-size="34.7" fill="#000" stroke="#fff" stroke-width="0.25">T</text><text transform="translate(3.6 4.67) scale(0.91 1)" class="fr" font-style="italic" font-size="21.8" fill="#000">g</text></g>
</svg>
</body></html>
